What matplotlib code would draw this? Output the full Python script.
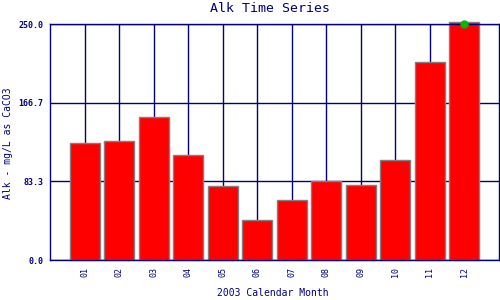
import matplotlib
matplotlib.use("Agg")
import matplotlib.pyplot as plt

months = ["01", "02", "03", "04", "05", "06", "07", "08", "09", "10", "11", "12"]
alk = [123.6, 125.7, 151.1, 110.9, 78.0, 42.0, 63.2, 83.3, 79.4, 105.6, 209.4, 251.8]
max_month = ["12"]
max_value = [250.0]
yticks = [0.0, 83.3, 166.7, 250.0]

navy = "#000080"
W, H = 500, 300
fig = plt.figure(figsize=(5, 3), dpi=100)
ax = fig.add_axes([50/W, 40/H, 449/W, 236/H])

x = list(range(1, len(months) + 1))
ax.set_axisbelow(True)
ax.grid(True, color=navy, linewidth=1.0)
bars = ax.bar(x, alk, width=0.87, color="#ff0000", edgecolor="#808080", linewidth=1.0, zorder=2)
for b in bars:
    b.set_clip_on(False)
mx = [x[months.index(m)] for m in max_month]
ax.plot(mx, max_value, marker="o", color="#00bb00", markersize=5, linestyle="none", zorder=3, clip_on=False)

ax.set_xlim(0, 13)
ax.set_ylim(0, 250)
ax.set_xticks(x)
ax.set_xticklabels(months, rotation=90, fontsize=6, color=navy, family="DejaVu Sans Mono")
ax.set_yticks(yticks)
ax.set_yticklabels([f"{v:.1f}" for v in yticks], fontsize=6, color=navy, family="DejaVu Sans Mono", fontweight="bold")
ax.tick_params(length=0, pad=5)
for s in ax.spines.values():
    s.set_color(navy)
    s.set_linewidth(1.0)

fig.text(270/W, 1 - 9/H, "Alk Time Series", fontsize=9.5, color=navy, family="DejaVu Sans Mono",
         ha="center", va="center")
fig.text(273/W, 1 - 293/H, "2003 Calendar Month", fontsize=7, color=navy, family="DejaVu Sans Mono",
         ha="center", va="center")
fig.text(8/W, 1 - 143/H, "Alk - mg/L as CaCO3", fontsize=7, color=navy, family="DejaVu Sans Mono",
         ha="center", va="center", rotation=90)

fig.savefig("out.png", dpi=100)
